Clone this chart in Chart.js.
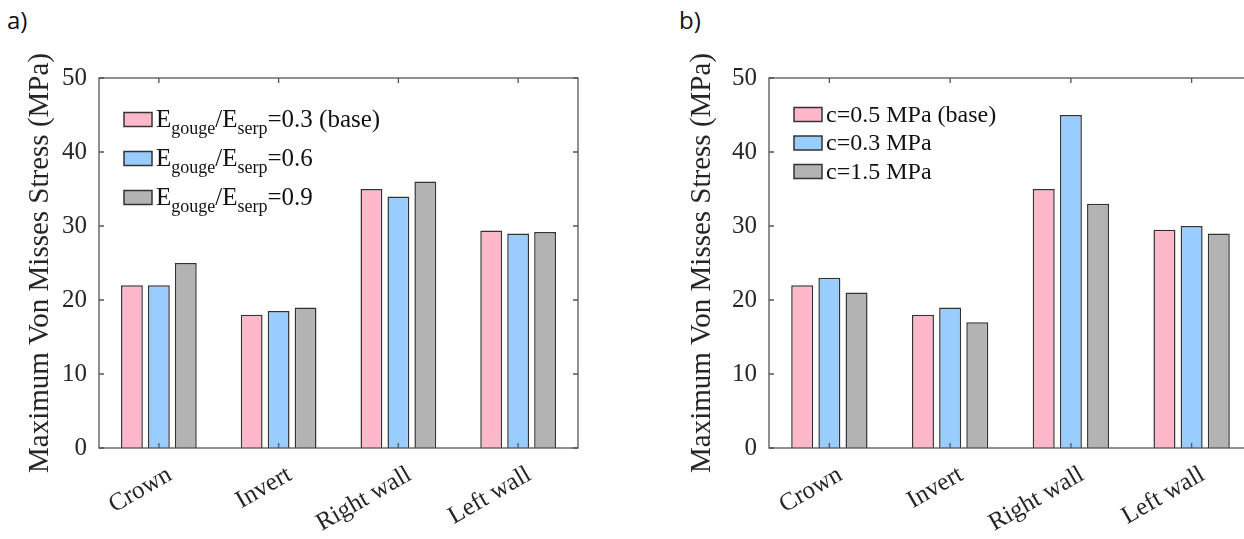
<!DOCTYPE html>
<html>
<head>
<meta charset="utf-8">
<script src="https://cdn.jsdelivr.net/npm/chart.js@4.4.1/dist/chart.umd.min.js"></script>
<style>
html, body { margin: 0; padding: 0; background: #fff; width: 1244px; height: 539px; overflow: hidden; position: relative; }
.panel { position: absolute; top: 0; height: 539px; }
#wrapA { left: 0; width: 622px; }
#wrapB { left: 622px; width: 640px; }
.tag { position: absolute; font-family: "Open Sans"; font-size: 24px; color: #111; }
</style>
</head>
<body>
<div class="tag" style="left:7px;top:3px">a)</div>
<div class="tag" style="left:679px;top:3px">b)</div>
<div class="panel" id="wrapA"><canvas id="chartA"></canvas></div>
<div class="panel" id="wrapB"><canvas id="chartB"></canvas></div>
<script>
const locations = ['Crown', 'Invert', 'Right wall', 'Left wall'];
const yTickValues = [0, 10, 20, 30, 40, 50];

// a) gouge / serpentinite stiffness ratio
const gougeLabels = ['E_{gouge}/E_{serp}=0.3 (base)', 'E_{gouge}/E_{serp}=0.6', 'E_{gouge}/E_{serp}=0.9'];
const gouge03 = [22, 18, 35, 29.4];
const gouge06 = [22, 18.5, 34, 29];
const gouge09 = [25, 19, 36, 29.2];

// b) cohesion
const cohesionLabels = ['c=0.5 MPa (base)', 'c=0.3 MPa', 'c=1.5 MPa'];
const c05 = [22, 18, 35, 29.5];
const c03 = [23, 19, 45, 30];
const c15 = [21, 17, 33, 29];

const barColors = ['#FFB8C9', '#99CCFF', '#B3B3B3'];
const serif = '"Liberation Serif", "Times New Roman", serif';
const axisInk = '#262626';

// box round the plot with inward ticks, like the matlab axes
const frame = {
    id: 'frame',
    afterDraw(chart) {
        const { ctx, chartArea: a, scales: { x, y } } = chart;
        const t = 5;
        ctx.save();
        ctx.strokeStyle = '#555';
        ctx.lineWidth = 1.3;
        ctx.strokeRect(a.left, a.top, a.right - a.left, a.bottom - a.top);
        ctx.beginPath();
        y.ticks.forEach(tk => {
            const py = y.getPixelForValue(tk.value);
            ctx.moveTo(a.left, py); ctx.lineTo(a.left + t, py);
            ctx.moveTo(a.right, py); ctx.lineTo(a.right - t, py);
        });
        x.ticks.forEach((tk, i) => {
            const px = x.getPixelForTick(i);
            ctx.moveTo(px, a.bottom); ctx.lineTo(px, a.bottom - t);
            ctx.moveTo(px, a.top); ctx.lineTo(px, a.top + t);
        });
        ctx.stroke();
        ctx.restore();
    }
};

// legend with subscripts written as _{...}
const subLegend = {
    id: 'subLegend',
    afterDraw(chart, args, opts) {
        const { ctx } = chart;
        ctx.save();
        chart.data.datasets.forEach((ds, i) => {
            const cy = opts.top + i * opts.step;
            ctx.fillStyle = ds.backgroundColor;
            ctx.strokeStyle = '#333';
            ctx.lineWidth = 1.5;
            ctx.fillRect(opts.left, cy - 7, 28, 14);
            ctx.strokeRect(opts.left, cy - 7, 28, 14);
            let x = opts.left + 32;
            const base = cy + 7;
            ctx.fillStyle = '#111';
            ctx.textBaseline = 'alphabetic';
            ds.label.split(/(_\{[^}]*\})/).forEach(part => {
                if (!part) return;
                const sub = part.startsWith('_{');
                const txt = sub ? part.slice(2, -1) : part;
                ctx.font = (sub ? 18 : opts.size) + 'px ' + serif;
                ctx.fillText(txt, x, sub ? base + 7 : base);
                x += ctx.measureText(txt).width;
            });
        });
        ctx.restore();
    }
};

function makeChart(id, labels, series, o) {
    const datasets = series.map((vals, i) => ({
        label: labels[i],
        data: vals,
        backgroundColor: barColors[i],
        borderColor: '#333',
        borderWidth: 1.5,
        barPercentage: 0.81,
        categoryPercentage: 0.675
    }));
    return new Chart(document.getElementById(id), {
        type: 'bar',
        data: { labels: locations, datasets: datasets },
        options: {
            responsive: false,
            animation: false,
            layout: { padding: { top: 78, right: o.padRight, bottom: 0, left: 0 } },
            plugins: {
                legend: { display: false },
                tooltip: { enabled: false },
                subLegend: o.legend
            },
            scales: {
                x: {
                    grid: { display: false },
                    border: { display: false },
                    afterFit: s => { s.height = 91; },
                    ticks: {
                        color: axisInk,
                        font: { family: serif, size: 25 },
                        minRotation: 30,
                        maxRotation: 30,
                        padding: 4,
                        labelOffset: 11
                    }
                },
                y: {
                    min: 0,
                    max: 50,
                    afterFit: s => { s.width = o.yWidth; },
                    afterBuildTicks: s => { s.ticks = yTickValues.map(v => ({ value: v })); },
                    grid: { display: false, drawTicks: false },
                    border: { display: false },
                    ticks: {
                        color: axisInk,
                        font: { family: serif, size: 25 },
                        padding: 12
                    },
                    title: {
                        display: true,
                        text: 'Maximum Von Misses Stress (MPa)',
                        color: axisInk,
                        font: { family: serif, size: 29, weight: 'normal' },
                        padding: { top: o.titlePad, bottom: 0 }
                    }
                }
            }
        },
        plugins: [frame, subLegend]
    });
}

function draw() {
    const canvasA = document.getElementById('chartA');
    canvasA.width = 622; canvasA.height = 539;
    const canvasB = document.getElementById('chartB');
    canvasB.width = 640; canvasB.height = 539;

    makeChart('chartA', gougeLabels, [gouge03, gouge06, gouge09],
        { padRight: 44, yWidth: 99, titlePad: 23, legend: { left: 124, top: 119.5, step: 39, size: 25 } });
    makeChart('chartB', cohesionLabels, [c05, c03, c15],
        { padRight: 10, yWidth: 147, titlePad: 63, legend: { left: 172, top: 114.5, step: 28.5, size: 24 } });
}

Promise.all([
    document.fonts.load('25px "Liberation Serif"'),
    document.fonts.load('24px "Open Sans"')
]).then(draw, draw);
</script>
</body>
</html>
